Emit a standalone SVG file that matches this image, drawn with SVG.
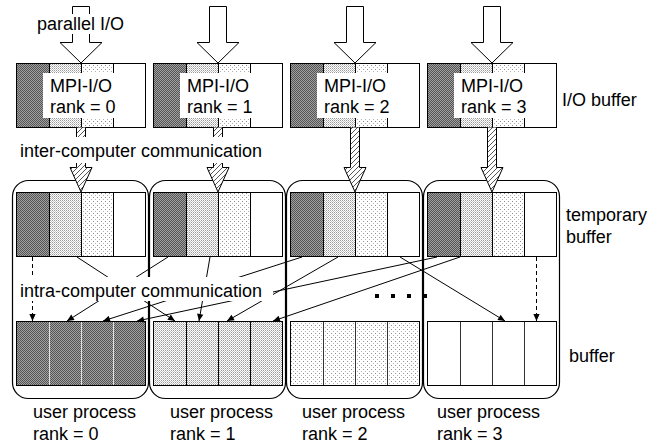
<svg xmlns="http://www.w3.org/2000/svg" width="648" height="447" viewBox="0 0 648 447">
<defs>
<pattern id="dark" width="2" height="2" patternUnits="userSpaceOnUse"><rect width="2" height="2" fill="#a0a0a0"/><rect width="1" height="1" fill="#555"/><rect x="1" y="1" width="1" height="1" fill="#555"/></pattern>
<pattern id="dense" width="2" height="2" patternUnits="userSpaceOnUse"><rect width="2" height="2" fill="#fff"/><rect width="1" height="1" fill="#999"/><rect x="1" y="1" width="1" height="1" fill="#c4c4c4"/></pattern>
<pattern id="sparse" width="4" height="4" patternUnits="userSpaceOnUse"><rect width="4" height="4" fill="#fff"/><rect x="1" y="1" width="1" height="1" fill="#8a8a8a"/><rect x="3" y="3" width="1" height="1" fill="#b0b0b0"/></pattern>
<pattern id="hatch" width="5" height="5" patternUnits="userSpaceOnUse"><rect width="5" height="5" fill="#fff"/><path d="M-1,6 L6,-1 M-1,1 L1,-1 M4,6 L6,4" stroke="#444" stroke-width="0.9"/></pattern>
<marker id="ah" viewBox="0 0 10 10" refX="10" refY="5" markerWidth="8" markerHeight="7" markerUnits="userSpaceOnUse" orient="auto"><path d="M0,0.5 L10,5 L0,9.5Z" fill="#000"/></marker>
</defs>
<style>
text{font-family:"Liberation Sans",Arial,sans-serif;font-size:18px;fill:#000}
.ol{fill:none;stroke:#000;stroke-width:1}
.div{stroke:#000;stroke-width:1}
.bigarrow{fill:#fff;stroke:#000;stroke-width:1}
.harrow{fill:url(#hatch);stroke:#000;stroke-width:1}
.proc{fill:none;stroke:#000;stroke-width:1.2}
.bg{fill:#fff}
.con{stroke:#000;stroke-width:1;fill:none;marker-end:url(#ah)}
.dash{stroke-dasharray:4,3}
</style>
<rect width="648" height="447" fill="#fff"/>

<!-- user process containers -->
<g id="proc0"><rect class="proc" x="12.5" y="180.5" width="136" height="218" rx="16"/></g>
<g id="proc1"><rect class="proc" x="149.5" y="180.5" width="136" height="218" rx="16"/></g>
<g id="proc2"><rect class="proc" x="286.5" y="180.5" width="136" height="218" rx="16"/></g>
<g id="proc3"><rect class="proc" x="423.5" y="180.5" width="136" height="218" rx="16"/></g>

<!-- parallel I/O big arrows -->
<g id="pio">
<path class="bigarrow" d="M72.5,6.5 H89.5 V42.5 H102 L81,63 L60,42.5 H72.5 Z"/>
<path class="bigarrow" d="M209.5,6.5 H226.5 V42.5 H239 L218,63 L197,42.5 H209.5 Z"/>
<path class="bigarrow" d="M346.5,6.5 H363.5 V42.5 H376 L355,63 L334,42.5 H346.5 Z"/>
<path class="bigarrow" d="M483.5,6.5 H500.5 V42.5 H513 L492,63 L471,42.5 H483.5 Z"/>
<rect class="bg" x="35" y="14" width="92" height="20"/>
<text x="37" y="30">parallel I/O</text>
</g>

<!-- I/O buffers -->
<g id="io0">
<rect x="16" y="63" width="129" height="64" fill="#fff"/>
<rect x="16" y="63" width="33" height="64" fill="url(#dark)"/>
<rect x="49" y="63" width="32" height="10" fill="url(#dense)"/><rect x="49" y="117" width="32" height="10" fill="url(#dense)"/>
<rect x="81" y="63" width="32" height="10" fill="url(#sparse)"/><rect x="81" y="117" width="32" height="10" fill="url(#sparse)"/>
<path class="div" d="M49.5,63V73M49.5,117V127M81.5,63V73M81.5,117V127M113.5,63V73M113.5,117V127"/>
<rect class="bg" x="43" y="73" width="72" height="45"/>
<rect class="ol" x="16.5" y="63.5" width="129" height="64"/>
<text x="50" y="92">MPI-I/O</text><text x="50" y="113">rank = 0</text>
</g>
<g id="io1" transform="translate(137,0)">
<rect x="16" y="63" width="129" height="64" fill="#fff"/>
<rect x="16" y="63" width="33" height="64" fill="url(#dark)"/>
<rect x="49" y="63" width="32" height="10" fill="url(#dense)"/><rect x="49" y="117" width="32" height="10" fill="url(#dense)"/>
<rect x="81" y="63" width="32" height="10" fill="url(#sparse)"/><rect x="81" y="117" width="32" height="10" fill="url(#sparse)"/>
<path class="div" d="M49.5,63V73M49.5,117V127M81.5,63V73M81.5,117V127M113.5,63V73M113.5,117V127"/>
<rect class="bg" x="43" y="73" width="72" height="45"/>
<rect class="ol" x="16.5" y="63.5" width="129" height="64"/>
<text x="50" y="92">MPI-I/O</text><text x="50" y="113">rank = 1</text>
</g>
<g id="io2" transform="translate(274,0)">
<rect x="16" y="63" width="129" height="64" fill="#fff"/>
<rect x="16" y="63" width="33" height="64" fill="url(#dark)"/>
<rect x="49" y="63" width="32" height="10" fill="url(#dense)"/><rect x="49" y="117" width="32" height="10" fill="url(#dense)"/>
<rect x="81" y="63" width="32" height="10" fill="url(#sparse)"/><rect x="81" y="117" width="32" height="10" fill="url(#sparse)"/>
<path class="div" d="M49.5,63V73M49.5,117V127M81.5,63V73M81.5,117V127M113.5,63V73M113.5,117V127"/>
<rect class="bg" x="43" y="73" width="72" height="45"/>
<rect class="ol" x="16.5" y="63.5" width="129" height="64"/>
<text x="50" y="92">MPI-I/O</text><text x="50" y="113">rank = 2</text>
</g>
<g id="io3" transform="translate(411,0)">
<rect x="16" y="63" width="129" height="64" fill="#fff"/>
<rect x="16" y="63" width="33" height="64" fill="url(#dark)"/>
<rect x="49" y="63" width="32" height="10" fill="url(#dense)"/><rect x="49" y="117" width="32" height="10" fill="url(#dense)"/>
<rect x="81" y="63" width="32" height="10" fill="url(#sparse)"/><rect x="81" y="117" width="32" height="10" fill="url(#sparse)"/>
<path class="div" d="M49.5,63V73M49.5,117V127M81.5,63V73M81.5,117V127M113.5,63V73M113.5,117V127"/>
<rect class="bg" x="43" y="73" width="72" height="45"/>
<rect class="ol" x="16.5" y="63.5" width="129" height="64"/>
<text x="50" y="92">MPI-I/O</text><text x="50" y="113">rank = 3</text>
</g>
<text x="562" y="106">I/O buffer</text>

<!-- inter-computer hatched arrows -->
<g id="inter">
<path class="harrow" d="M76.5,127.5 V167.5 H70 L81,192 L92,167.5 H85.5 V127.5"/>
<path class="harrow" d="M213.5,127.5 V167.5 H207 L218,192 L229,167.5 H222.5 V127.5"/>
<path class="harrow" d="M350.5,127.5 V167.5 H344 L355,192 L366,167.5 H359.5 V127.5"/>
<path class="harrow" d="M487.5,127.5 V167.5 H481 L492,192 L503,167.5 H496.5 V127.5"/>
<rect class="bg" x="18" y="137" width="252" height="26"/>
<text x="20" y="157">inter-computer communication</text>
</g>

<!-- temporary buffers -->
<g id="tmp0">
<rect x="16" y="192" width="33" height="65" fill="url(#dark)"/><rect x="49" y="192" width="32" height="65" fill="url(#dense)"/><rect x="81" y="192" width="32" height="65" fill="url(#sparse)"/><rect x="113" y="192" width="32" height="65" fill="#fff"/>
<path class="div" d="M49.5,192V257M81.5,192V257M113.5,192V257"/>
<rect class="ol" x="16.5" y="192.5" width="129" height="64"/>
</g>
<g id="tmp1" transform="translate(137,0)">
<rect x="16" y="192" width="33" height="65" fill="url(#dark)"/><rect x="49" y="192" width="32" height="65" fill="url(#dense)"/><rect x="81" y="192" width="32" height="65" fill="url(#sparse)"/><rect x="113" y="192" width="32" height="65" fill="#fff"/>
<path class="div" d="M49.5,192V257M81.5,192V257M113.5,192V257"/>
<rect class="ol" x="16.5" y="192.5" width="129" height="64"/>
</g>
<g id="tmp2" transform="translate(274,0)">
<rect x="16" y="192" width="33" height="65" fill="url(#dark)"/><rect x="49" y="192" width="32" height="65" fill="url(#dense)"/><rect x="81" y="192" width="32" height="65" fill="url(#sparse)"/><rect x="113" y="192" width="32" height="65" fill="#fff"/>
<path class="div" d="M49.5,192V257M81.5,192V257M113.5,192V257"/>
<rect class="ol" x="16.5" y="192.5" width="129" height="64"/>
</g>
<g id="tmp3" transform="translate(411,0)">
<rect x="16" y="192" width="33" height="65" fill="url(#dark)"/><rect x="49" y="192" width="32" height="65" fill="url(#dense)"/><rect x="81" y="192" width="32" height="65" fill="url(#sparse)"/><rect x="113" y="192" width="32" height="65" fill="#fff"/>
<path class="div" d="M49.5,192V257M81.5,192V257M113.5,192V257"/>
<rect class="ol" x="16.5" y="192.5" width="129" height="64"/>
</g>
<text x="566" y="221">temporary</text>
<text x="566" y="243">buffer</text>

<!-- user buffers -->
<g id="buf0">
<rect x="16" y="321" width="129" height="65" fill="url(#dark)"/>
<path d="M49.5,321V386M81.5,321V386M113.5,321V386" stroke="#e0e0e0" stroke-width="1"/>
<rect class="ol" x="16.5" y="321.5" width="129" height="64"/>
</g>
<g id="buf1" transform="translate(137,0)">
<rect x="16" y="321" width="129" height="65" fill="url(#dense)"/>
<path class="div" d="M49.5,321V386M81.5,321V386M113.5,321V386"/>
<rect class="ol" x="16.5" y="321.5" width="129" height="64"/>
</g>
<g id="buf2" transform="translate(274,0)">
<rect x="16" y="321" width="129" height="65" fill="url(#sparse)"/>
<path d="M49.5,321V386M81.5,321V386M113.5,321V386" stroke="#333" stroke-width="1"/>
<rect class="ol" x="16.5" y="321.5" width="129" height="64"/>
</g>
<g id="buf3" transform="translate(411,0)">
<rect x="16" y="321" width="129" height="65" fill="#fff"/>
<path d="M49.5,321V386M81.5,321V386M113.5,321V386" stroke="#333" stroke-width="1"/>
<rect class="ol" x="16.5" y="321.5" width="129" height="64"/>
</g>
<text x="569" y="362">buffer</text>

<!-- intra-computer connectors -->
<g id="connectors">
<line class="con dash" x1="32.5" y1="257" x2="32.5" y2="321"/>
<line class="con dash" x1="536.5" y1="257" x2="536.5" y2="321"/>
<line class="con" x1="77" y1="257" x2="175" y2="321"/>
<line class="con" x1="168" y1="257" x2="67" y2="321"/>
<line class="con" x1="210" y1="257" x2="199" y2="321"/>
<line class="con" x1="302" y1="257" x2="103" y2="321"/>
<line class="con" x1="338" y1="257" x2="227" y2="321"/>
<line class="con" x1="437" y1="257" x2="137" y2="321"/>
<line class="con" x1="460" y1="257" x2="273" y2="321"/>
<line class="con" x1="400" y1="257" x2="505" y2="321"/>
</g>
<g id="intra-label">
<rect class="bg" x="18" y="277" width="255" height="24"/>
<text x="20" y="297">intra-computer communication</text>
</g>
<g id="ellipsis" fill="#000">
<rect x="375" y="294" width="4" height="4"/><rect x="391" y="294" width="4" height="4"/><rect x="407" y="294" width="4" height="4"/><rect x="423" y="294" width="4" height="4"/>
</g>

<!-- process labels -->
<g id="lbl0"><text x="33" y="418">user process</text><text x="33" y="440">rank = 0</text></g>
<g id="lbl1"><text x="170" y="418">user process</text><text x="170" y="440">rank = 1</text></g>
<g id="lbl2"><text x="302" y="418">user process</text><text x="302" y="440">rank = 2</text></g>
<g id="lbl3"><text x="437" y="418">user process</text><text x="437" y="440">rank = 3</text></g>
</svg>
